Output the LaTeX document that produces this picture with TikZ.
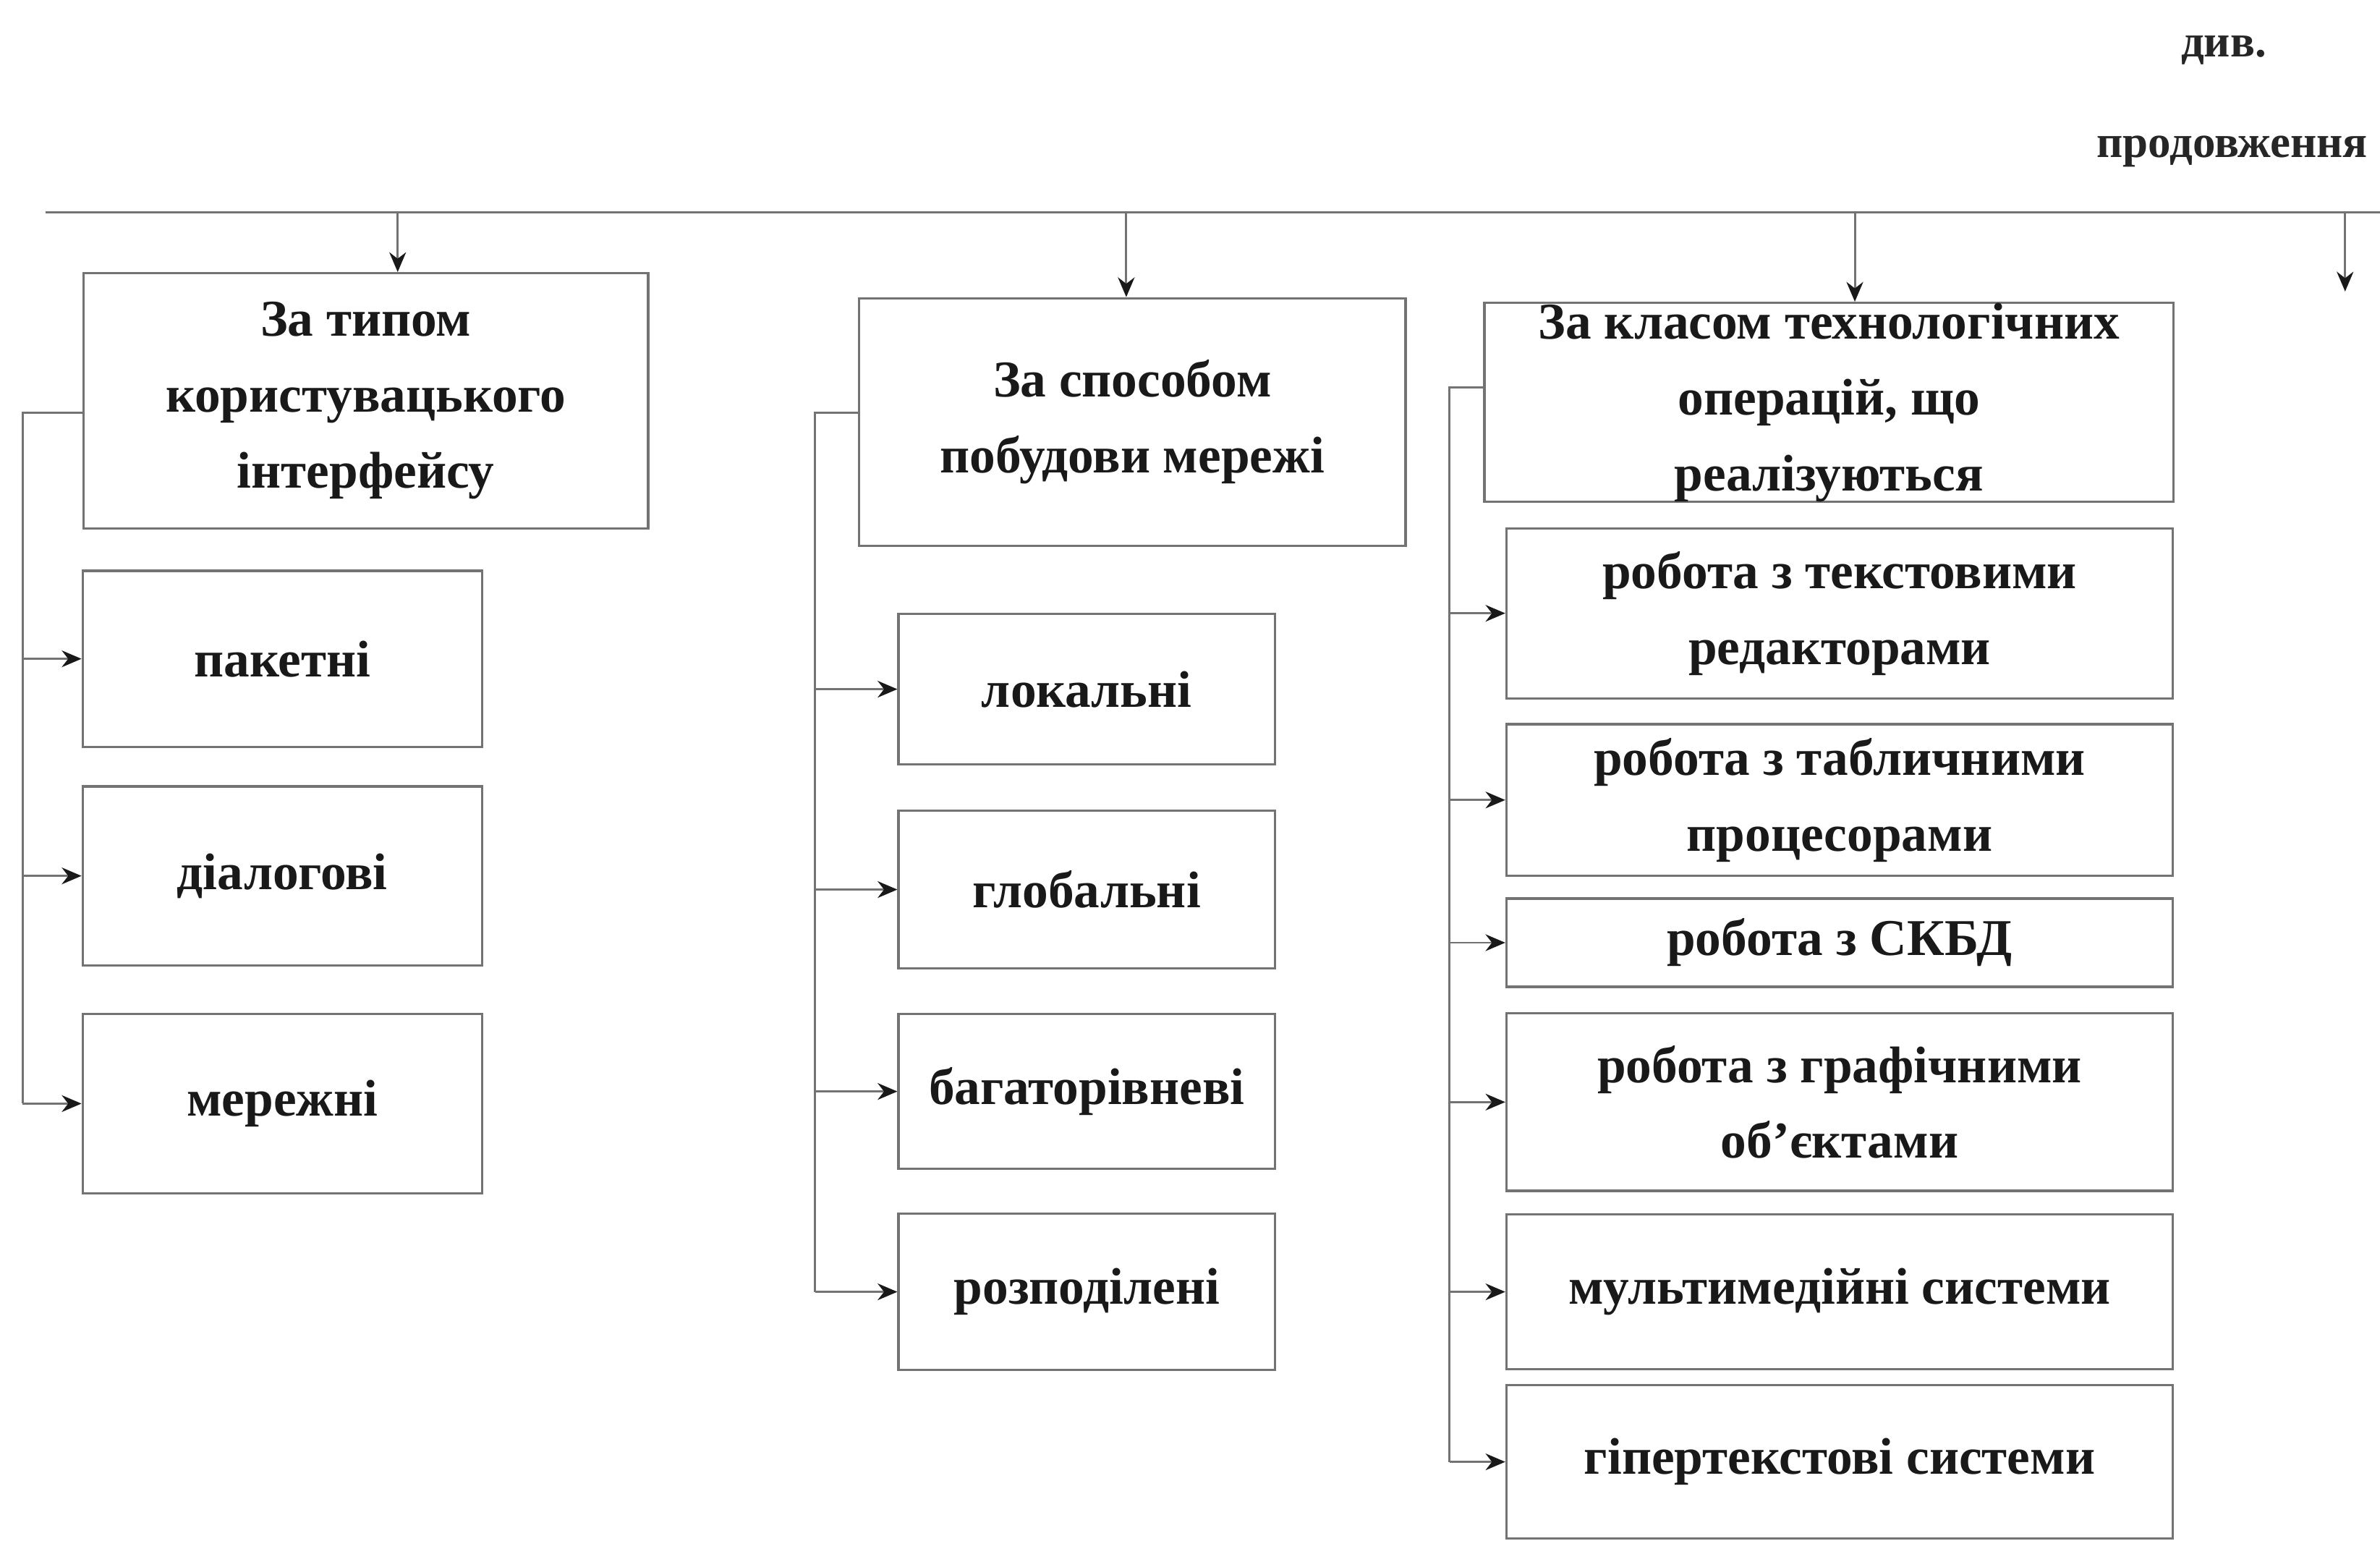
\documentclass[tikz,border=0pt]{standalone}
\usepackage{fontspec}
\setmainfont{Liberation Serif}
\usetikzlibrary{arrows.meta}
\begin{document}
\begin{tikzpicture}[x=1pt,y=-1pt,
  box/.style={draw=black!55, line width=1.6pt, rectangle, inner sep=0pt, align=center,
    font=\fontsize{34}{50}\selectfont\bfseries, text=black!90},
  conn/.style={draw=black!55, line width=1.4pt},
  arr/.style={conn, -{Stealth[length=13pt,width=11pt,color=black!90]}},
  lbl/.style={font=\fontsize{30}{40}\selectfont\bfseries, text=black!85, inner sep=0pt}]
\useasboundingbox (0,0) rectangle (1568,1015);
% labels
\node[lbl] (div) at (1465,33) {див.};
\node[lbl, anchor=east] (prod) at (1560,100) {продовження};
% main line
\coordinate (lineL) at (30,140);
\coordinate (lineR) at (1568,140);
\draw[conn] (lineL) -- (lineR);
% top boxes
\node[box, minimum width=372, minimum height=168] (t1) at (241,264) {За типом\\користувацького\\інтерфейсу};
\node[box, minimum width=360, minimum height=163] (t2) at (746,278) {За способом\\побудови мережі};
\node[box, minimum width=454, minimum height=130] (t3) at (1205,265) {За класом технологічних\\операцій, що\\реалізуються};
\coordinate (x1) at (262,140);
\coordinate (x2) at (742,140);
\coordinate (x3) at (1222,140);
\coordinate (end4) at (1545,192);
% arrows from line
\draw[arr] (x1) -- (x1 |- t1.north);
\draw[arr] (x2) -- (x2 |- t2.north);
\draw[arr] (x3) -- (x3 |- t3.north);
\draw[arr] (end4 |- lineL) -- (end4);
% column 1
\node[box, minimum width=263, minimum height=116] (a1) at (186,434) {пакетні};
\node[box, minimum width=263, minimum height=118] (a2) at (186,577) {діалогові};
\node[box, minimum width=263, minimum height=118] (a3) at (186,727) {мережні};
\coordinate (b1) at (15,272);
\draw[conn] (t1.west |- b1) -- (b1) -- (b1 |- a3.west);
\foreach \n in {a1,a2,a3} \draw[arr] (b1 |- \n.west) -- (\n.west);
% column 2
\node[box, minimum width=248, minimum height=99] (c1) at (716,454) {локальні};
\node[box, minimum width=248, minimum height=104] (c2) at (716,586) {глобальні};
\node[box, minimum width=248, minimum height=102] (c3) at (716,719) {багаторівневі};
\node[box, minimum width=248, minimum height=103] (c4) at (716,851) {розподілені};
\coordinate (b2) at (537,272);
\draw[conn] (t2.west |- b2) -- (b2) -- (b2 |- c4.west);
\foreach \n in {c1,c2,c3,c4} \draw[arr] (b2 |- \n.west) -- (\n.west);
% column 3
\node[box, minimum width=439, minimum height=112] (d1) at (1212,404) {робота з текстовими\\редакторами};
\node[box, minimum width=439, minimum height=100] (d2) at (1212,527) {робота з табличними\\процесорами};
\node[box, minimum width=439, minimum height=58] (d3) at (1212,621) {робота з СКБД};
\node[box, minimum width=439, minimum height=117] (d4) at (1212,726) {робота з графічними\\об'єктами};
\node[box, minimum width=439, minimum height=102] (d5) at (1212,851) {мультимедійні системи};
\node[box, minimum width=439, minimum height=101] (d6) at (1212,963) {гіпертекстові системи};
\coordinate (b3) at (955,255);
\draw[conn] (t3.west |- b3) -- (b3) -- (b3 |- d6.west);
\foreach \n in {d1,d2,d3,d4,d5,d6} \draw[arr] (b3 |- \n.west) -- (\n.west);
\end{tikzpicture}
\end{document}
